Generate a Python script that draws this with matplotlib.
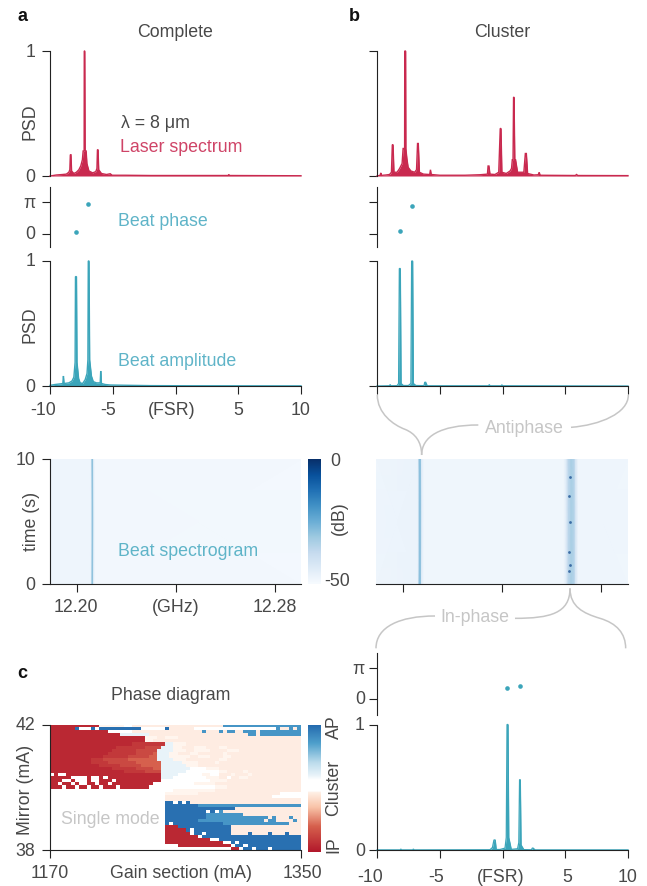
import numpy as np
import matplotlib
matplotlib.use('Agg')
import matplotlib.pyplot as plt
from matplotlib.colors import LinearSegmentedColormap, Normalize
from matplotlib.patches import PathPatch
from matplotlib.path import Path

W, H = 647, 886
plt.rcParams['font.family'] = ['Liberation Sans', 'DejaVu Sans']
plt.rcParams['font.size'] = 12.8

TEXT = '#484848'
RED = '#c9294f'
RED_TXT = '#cf4467'
TEAL = '#3ba5ba'
TEAL_TXT = '#5fb4c8'
GREY = '#c6c6c6'
SPINE = '#222222'

# laser spectrum, complete state
laser_a_x = [-10, -9.5, -9, -8.7, -8.5, -8.42, -8.38, -8.33, -8.28, -8.1, -7.9, -7.7, -7.55, -7.42, -7.36, -7.28,
             -7.27, -7.23, -7.2, -7.12, -7.06, -6.9, -6.6, -6.35, -6.26, -6.22, -6.17, -6.12, -5.9, -5.5, -5.2,
             -5.05, -4, -2, 0, 3, 4.2, 4.25, 4.3, 7, 10]
laser_a_y = [0, .008, .012, .015, .03, .05, .17, .17, .04, .02, .03, .05, .08, .13, .2, .2,
             1, 1, .2, .2, .1, .04, .025, .035, .06, .21, .21, .05, .02, .012, .018,
             .006, .006, .004, .004, .004, .004, .012, .004, .003, .002]

# laser spectrum, cluster state
laser_b_x = [-10, -9.75, -9.7, -9.65, -9.3, -9, -8.85, -8.78, -8.72, -8.65, -8.4, -8.2, -8.0, -7.92, -7.86, -7.8,
             -7.79, -7.72, -7.7, -7.62, -7.52, -7.3, -7.0, -6.85, -6.77, -6.71, -6.62, -6.3, -5.8, -5.74, -5.68,
             -5, -3, -1.8, -1.2, -1.15, -1.08, -1.0, -.6, -.3, -.18, -.12, -.05, .3, .6, .72, .78, .84,
             .88, .92, .98, 1.04, 1.2, 1.7, 1.82, 1.9, 2.0, 2.5, 2.85, 2.92, 3, 5.8, 5.9, 6, 10]
laser_b_y = [0, .005, .025, .005, .008, .012, .03, .25, .25, .03, .03, .06, .1, .22, .22, .22,
             1, 1, .22, .14, .07, .04, .03, .05, .26, .26, .03, .015, .012, .05, .012,
             .006, .006, .01, .015, .08, .08, .015, .012, .03, .38, .38, .03, .02, .04, .06, .13, .13,
             .63, .63, .13, .13, .03, .03, .18, .18, .02, .008, .01, .03, .006, .004, .012, .004, .003]

# beat amplitude, complete state
amp_a_x = [-10, -9.6, -9.1, -8.98, -8.93, -8.88, -8.5, -8.25, -8.1, -8.0, -7.97, -7.89, -7.85, -7.72, -7.6, -7.4,
           -7.2, -7.05, -6.98, -6.95, -6.89, -6.84, -6.7, -6.55, -6.3, -6.0, -5.96, -5.9, -5.6, -5.2, -4, -2, 1, 10]
amp_a_y = [.005, .012, .018, .02, .08, .02, .025, .04, .07, .19, .875, .875, .19, .06, .025, .02,
           .05, .1, .21, 1, 1, .21, .08, .035, .025, .025, .12, .02, .012, .008, .006, .003, .002, .001]

# beat amplitude, cluster state
amp_b_x = [-10, -9, -8.95, -8.9, -8.4, -8.28, -8.22, -8.14, -8.08, -7.9, -7.5, -7.3, -7.24, -7.16, -7.1, -6.9,
           -6.25, -6.2, -6.12, -6, -1.1, -1.05, -1, -.1, -.05, 0, 10]
amp_b_y = [0, .002, .012, .002, .003, .02, .94, .94, .02, .004, .004, .02, 1, 1, .02, .004,
           .003, .03, .03, .002, .002, .012, .002, .002, .01, .002, 0]

# beat amplitude, in-phase cluster
amp_c_x = [-10, -8.15, -8.1, -8.05, -7.15, -7.1, -7.05, -1, -.8, -.68, -.58, -.5, -.2, .2, .3, .36, .44, .5, .7,
           1.2, 1.3, 1.36, 1.42, 1.48, 1.7, 2.3, 2.38, 2.44, 2.6, 10]
amp_c_y = [.001, .001, .008, .001, .001, .008, .001, .002, .02, .08, .08, .004, .004, .015, .1, 1, 1, .1, .005,
           .01, .06, .56, .56, .04, .003, .002, .015, .015, .001, .001]

# beat phase points (FSR, rad)
phase_a_x = [-7.93, -6.95]
phase_a_y = [0.17, 2.94]
phase_b_x = [-8.2, -7.19]
phase_b_y = [0.24, 2.75]
phase_c_x = [0.39, 1.39]
phase_c_y = [1.16, 1.33]

# beat spectrogram profiles (GHz, dB)
spec_time = [0, 10]
spec_a_freq = [12.1893, 12.2055, 12.2060, 12.2063, 12.2067, 12.2070, 12.2075, 12.2905]
spec_a_db = [-47.5, -47.5, -46, -30, -30, -46, -48.5, -49]
spec_b_freq = [12.1891, 12.2058, 12.2062, 12.2066, 12.2072, 12.2076, 12.2085, 12.2650, 12.2662, 12.2668, 12.2680,
               12.2692, 12.2698, 12.2708, 12.2909]
spec_b_db = [-47.5, -47, -45, -29, -29, -45, -48, -48, -42, -36, -33, -35, -42, -47.5, -48]
spot_time = [8.54, 7.08, 4.96, 2.57, 1.56, 1.06]
spot_freq = [12.2673, 12.2672, 12.2674, 12.2672, 12.2673, 12.2671]

# phase diagram, one entry per mirror current from 42 down to 38 mA
# letter + run length along the gain section
diagram_rows = [
    'R12 q6 n2 p22 c19',
    'R6 b1 n3 b1 n1 b10 n6 b1 p6 n20 c1 p2 c1 p1 c1',
    'R14 n6 p17 c1 p3 c1 p1 c2 p2 c3 p1 c10',
    'R17 i7 p24 c2 p1 c10',
    'R23 q3 p2 q3 p30',
    'R23 q2 p36',
    'R20 r8 i2 q3 p28',
    'R16 r7 s4 i3 q2 p3 q3 p3 q2 p18',
    'R15 r6 s5 i4 q3 p2 q4 p4 q3 p15',
    'R14 r7 s4 o1 i3 q2 p3 q2 p6 q1 p18',
    'R13 r6 s5 o2 i3 q5 p2 q3 p3 q2 p17',
    'R10 r3 s6 o7 i4 q3 p8 q2 p18',
    'R10 r4 s7 o6 i5 q4 p4 q1 p20',
    'R12 r5 s5 o5 i6 q3 p25',
    'R15 r6 s4 o2 i7 n4 q3 p20',
    'R18 r5 s4 i6 n8 q2 p4 q1 p13',
    'n1 R1 n2 R23 i4 n6 q2 n2 p3 q1 p3 q1 p12',
    'R5 n4 R1 n2 R1 n1 R13 i3 n8 q3 p2 n1 p2 q2 p13',
    'R3 n2 R1 n3 R1 n2 R3 n1 R11 n12 q4 p18',
    'R2 n1 R2 n1 R1 n2 R2 n1 R2 n1 R10 n10 q5 p21',
    'R3 n1 R2 n1 R2 n1 R2 n1 R3 n1 R7 n16 q3 p18',
    'n30 q10 p21',
    'n28 q8 p20 n5',
    'n28 p26 n7',
    'n28 p33',
    'n28 b2 n1 b1 n1 b1 p27',
    'n28 b8 c25',
    'n28 b17 p16',
    'n28 b10 n1 b1 n1 c1 p19',
    'n28 b10 c9 p14',
    'n28 b10 c15 p1 c1 p3 c1 p2',
    'n28 b8 c16 p1 c2 p4 c1 p1',
    'n28 b1 n1 b12 c16 p3',
    'n28 R3 b13 p17',
    'n28 R5 b1 n1 b9 p17',
    'n28 R6 n1 b2 n1 b6 p4 b1 p4 b1 p3 b1 p3',
    'n28 R8 n1 b24',
    'n28 R11 n2 b20',
    'n28 R14 n2 b1 n1 b15',
    'n31 R13 n1 b2 n1 b13',
    'n44 R2 n1 b2 n1 b3 n1 b7',
]
diagram_levels = {'R': -.9, 'r': -.82, 's': -.72, 'o': -.6, 'p': -.085, 'q': -.06,
                  'n': np.nan, 'i': .2, 'c': .75, 'b': .95}

fsr_ticks = [-10, -5, 0, 5, 10]
ghz_ticks = [12.20, 12.24, 12.28]


def px_axes(x0, y0, x1, y1):
    return fig.add_axes([x0 / W, 1 - y1 / H, (x1 - x0) / W, (y1 - y0) / H], facecolor='none')


def clean(ax, bottom=False):
    for s in ['top', 'right']:
        ax.spines[s].set_visible(False)
    ax.spines['bottom'].set_visible(bottom)
    for s in ['left', 'bottom']:
        ax.spines[s].set_linewidth(.8)
        ax.spines[s].set_color(SPINE)
    ax.tick_params(length=5.5, width=.8, color=SPINE, labelcolor=TEXT, pad=3)
    ax.set_xticks([])
    ax.set_yticks([])
    ax.set_yticklabels([])


def spectrum(ax, x, y, color, lw=1.0):
    ax.fill_between(x, 0, y, color=color, lw=0)
    ax.plot(x, y, color=color, lw=lw, clip_on=False, solid_joinstyle='miter')
    ax.set_xlim(-10, 10)
    ax.set_ylim(0, 1)


def phase_panel(ax, x, y, ylim=(-1.32, 4.63)):
    clean(ax)
    ax.scatter(x, y, s=11, color=TEAL, lw=0)
    ax.set_xlim(-10, 10)
    ax.set_ylim(*ylim)
    ax.set_yticks([0, np.pi])
    ax.set_yticklabels([])


def psd_panel(ax, x, y, color, lw=1.0):
    clean(ax)
    spectrum(ax, x, y, color, lw)
    ax.set_yticks([0, 1])
    ax.set_yticklabels([])


def spectrogram(ax, freq, db):
    clean(ax, bottom=True)
    ax.pcolormesh(freq, spec_time, np.vstack([db, db]), cmap='Blues', norm=db_norm, shading='gouraud', rasterized=True)
    ax.set_xlim(freq[0], freq[-1])
    ax.set_ylim(0, 10)
    ax.set_xticks(ghz_ticks)
    ax.set_xticklabels([])


fig = plt.figure(figsize=(W / 100, H / 100), dpi=100)
db_norm = Normalize(-50, 0)

# panel a
ax = px_axes(50, 51, 301, 176)
psd_panel(ax, laser_a_x, laser_a_y, RED)
ax = px_axes(50, 187, 301, 247)
phase_panel(ax, phase_a_x, phase_a_y)
ax = px_axes(50, 261, 301, 386)
psd_panel(ax, amp_a_x, amp_a_y, TEAL)
ax.spines['bottom'].set_visible(True)
ax.set_xticks(fsr_ticks)
ax.set_xticklabels([])
ax = px_axes(50, 459, 301, 584)
spectrogram(ax, spec_a_freq, spec_a_db)
ax.set_yticks([0, 10])
ax.set_yticklabels([])
ax = px_axes(308, 459, 321, 584)
ax.imshow(np.linspace(0, -50, 200)[:, None], cmap='Blues', norm=db_norm, aspect='auto')
ax.axis('off')

# panel b
ax = px_axes(377, 51, 628, 176)
psd_panel(ax, laser_b_x, laser_b_y, RED)
ax = px_axes(377, 187, 628, 247)
phase_panel(ax, phase_b_x, phase_b_y)
ax = px_axes(377, 261, 628, 386)
psd_panel(ax, amp_b_x, amp_b_y, TEAL, lw=.9)
ax.spines['bottom'].set_visible(True)
ax.set_xticks(fsr_ticks)
ax.set_xticklabels([])
ax = px_axes(376, 459, 628, 584)
spectrogram(ax, spec_b_freq, spec_b_db)
ax.spines['left'].set_visible(False)
ax.scatter(spot_freq, spot_time, s=4, color='#1f5596', lw=0, alpha=.8)
ax = px_axes(377, 653, 628, 715)
phase_panel(ax, phase_c_x, phase_c_y, ylim=(-1.59, 4.66))
ax = px_axes(377, 724.5, 628, 850)
psd_panel(ax, amp_c_x, amp_c_y, TEAL, lw=.9)
ax.spines['bottom'].set_visible(True)
ax.set_xticks(fsr_ticks)
ax.set_xticklabels([])

# panel c
diagram_cmap = LinearSegmentedColormap.from_list('diagram', [
    (0, '#b2182b'), (.2, '#d6604d'), (.35, '#f9c4a9'), (.425, '#fde0d0'), (.47, '#fff1e8'), (.472, '#ffffff'),
    (.565, '#ffffff'), (.6, '#e8f3f9'), (.7, '#bcdcec'), (.85, '#4fa0cc'), (1, '#2268ad')])
diagram_cmap.set_bad('white')
diagram = []
for row in diagram_rows:
    cells = []
    for run in row.split():
        cells += [diagram_levels[run[0]]] * int(run[1:])
    diagram.append((cells + [cells[-1]] * 61)[:61])
ax = px_axes(50, 724.5, 301, 850)
clean(ax, bottom=True)
ax.imshow(np.array(diagram), cmap=diagram_cmap, vmin=-1, vmax=1, aspect='auto',
          extent=(1170, 1350, 38, 42), interpolation='nearest')
ax.set_xticks([1170, 1350])
ax.set_xticklabels([])
ax.set_yticks([38, 42])
ax.set_yticklabels([])
ax = px_axes(308, 725, 321, 852)
ax.imshow(np.linspace(1, -1, 256)[:, None], cmap=diagram_cmap, vmin=-1, vmax=1, aspect='auto')
ax.axis('off')

# everything else is placed in picture pixels on one overlay
over = fig.add_axes([0, 0, 1, 1], facecolor='none')
over.set_xlim(0, W)
over.set_ylim(H, 0)
over.axis('off')


def label(x, y, s, color=TEXT, ha='center', rotation=0, **kw):
    # text sits about a pixel high/left of the requested centre
    if rotation:
        x += 1
    else:
        y += 1
    over.text(x, y, s, color=color, ha=ha, va='center', rotation=rotation, fontsize=kw.pop('fontsize', 12.8), **kw)


def brace(verts):
    codes = [Path.MOVETO] + [Path.CURVE4] * (len(verts) - 1)
    pts = [(350 + x / 3, 380 + y / 3) for x, y in verts]
    over.add_patch(PathPatch(Path(pts, codes), fc='none', ec=GREY, lw=1.1))


for x, y, s in [(22, 15, 'a'), (354, 15, 'b'), (22, 673, 'c')]:
    label(x, y, s, color='#111111', fontsize=13, fontweight='bold')
label(175, 31, 'Complete')
label(502, 31, 'Cluster')
label(171, 694, 'Phase diagram')

for y, s in [(51, '1'), (176, '0'), (202, 'π'), (233, '0'), (261, '1'), (386, '0'), (459, '10'), (584, '0'),
             (724.5, '42'), (850, '38')]:
    label(35.5, y, s, ha='right')
for y, s in [(668, 'π'), (699, '0'), (724, '1'), (850, '0')]:
    label(365, y, s, ha='right')

label(29, 122, 'PSD', rotation=90)
label(29, 325, 'PSD', rotation=90)
label(31, 521, 'time (s)', rotation=90)
label(25, 790, 'Mirror (mA)', rotation=90)

for x, s in [(43, '-10'), (108, '-5'), (172, '(FSR)'), (238, '5'), (301, '10')]:
    label(x, 409, s)
for x, s in [(370, '-10'), (436, '-5'), (501, '(FSR)'), (567, '5'), (628, '10')]:
    label(x, 876, s)
for x, s in [(76, '12.20'), (176, '(GHz)'), (275, '12.28')]:
    label(x, 606, s)
label(50, 873, '1170')
label(181, 873, 'Gain section (mA)')
label(302, 873, '1350')

label(335, 460, '0')
label(337, 580, '-50')
label(338, 518, '(dB)', rotation=90)
label(333, 727, 'AP', rotation=90)
label(333, 788, 'Cluster', rotation=90)
label(333, 845, 'IP', rotation=90)

label(121, 122, 'λ = 8 μm', ha='left')
label(120, 146, 'Laser spectrum', color=RED_TXT, ha='left')
label(118, 220, 'Beat phase', color=TEAL_TXT, ha='left')
label(118, 360, 'Beat amplitude', color=TEAL_TXT, ha='left')
label(118, 550, 'Beat spectrogram', color=TEAL_TXT, ha='left')
label(61, 819, 'Single mode', color=GREY, ha='left')
label(524, 427, 'Antiphase', color=GREY)
label(475, 617, 'In-phase', color=GREY)

brace([(82, 45), (82, 100), (130, 135), (165, 148), (195, 160), (215, 185), (215, 225)])
brace([(215, 225), (215, 170), (270, 135), (385, 135)])
brace([(663, 142), (750, 135), (835, 100), (835, 45)])
brace([(78, 805), (78, 740), (150, 708), (255, 708)])
brace([(495, 715), (600, 715), (660, 700), (660, 625)])
brace([(660, 625), (660, 680), (700, 700), (750, 715), (800, 730), (827, 760), (827, 805)])

fig.savefig('out.png', dpi=100)
